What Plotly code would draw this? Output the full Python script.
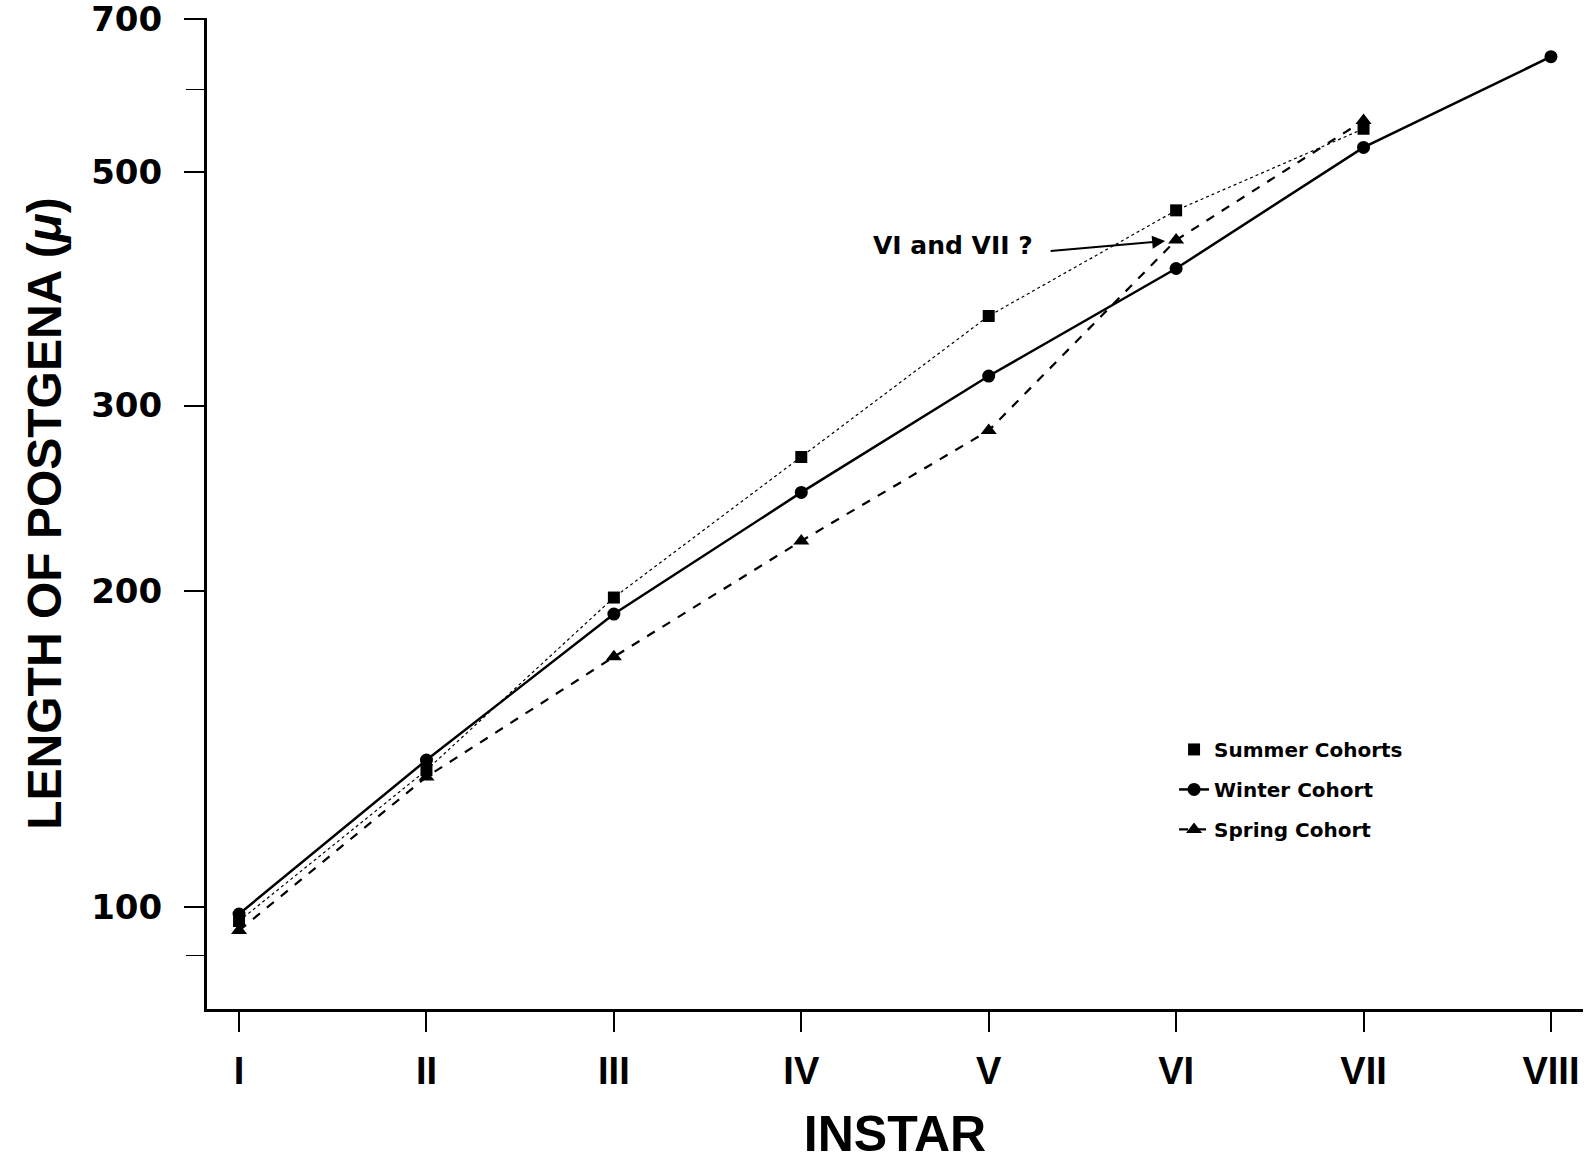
import math
import plotly.graph_objects as go

instars = [1, 2, 3, 4, 5, 6, 7, 8]
instar_labels = ["I", "II", "III", "IV", "V", "VI", "VII", "VIII"]

summer_x = [1, 2, 3, 4, 5, 6, 7]
summer_y = [97, 135, 197, 268, 365, 460, 550]

winter_x = [1, 2, 3, 4, 5, 6, 7, 8]
winter_y = [98.5, 138, 190, 248, 320, 405, 528, 644]

spring_x = [1, 2, 3, 4, 5, 6, 7]
spring_y = [95, 133, 173, 223, 284, 431, 560]

y_ticks = [100, 200, 300, 500, 700]
y_minor = [90, 600]

NARROW = "Liberation Sans Narrow, Arial Narrow, Liberation Sans, Arial, sans-serif"
WIDE = "DejaVu Sans, Verdana, sans-serif"

fig = go.Figure()

# Summer: dotted line (no legend), markers carry the legend entry
fig.add_trace(go.Scatter(
    x=summer_x, y=summer_y, mode="lines",
    line=dict(color="black", width=1.2, dash="dot"),
    showlegend=False, hoverinfo="skip"))
fig.add_trace(go.Scatter(
    x=summer_x, y=summer_y, mode="markers", name="Summer Cohorts",
    marker=dict(symbol="square", size=12, color="black"),
    legendgroup="a"))
fig.add_trace(go.Scatter(
    x=winter_x, y=winter_y, mode="lines+markers", name="Winter Cohort",
    line=dict(color="black", width=2.5),
    marker=dict(symbol="circle", size=13, color="black"),
    legendgroup="b"))
fig.add_trace(go.Scatter(
    x=spring_x, y=spring_y, mode="lines+markers", name="Spring Cohort",
    line=dict(color="black", width=2.2, dash="dash"),
    marker=dict(symbol="triangle-up", size=14, color="black"),
    legendgroup="c"))

fig.add_annotation(
    x=spring_x[5], y=math.log10(spring_y[5]), xref="x", yref="y",
    ax=-127, ay=11, axref="pixel", ayref="pixel",
    text="", showarrow=True, arrowhead=2, arrowsize=1.3, arrowwidth=2,
    arrowcolor="black", standoff=11)
fig.add_annotation(
    x=4.81, y=math.log10(426), xref="x", yref="y",
    text="VI and VII ?", showarrow=False,
    font=dict(family=WIDE, size=25, color="black", weight="bold"))

fig.update_layout(
    width=1590, height=1168,
    margin=dict(l=207, r=7, t=18, b=159),
    paper_bgcolor="white", plot_bgcolor="white",
    showlegend=True,
    legend=dict(
        x=0.7028, y=0.2816, xanchor="left", yanchor="top",
        font=dict(family=WIDE, size=20, color="black", weight="bold"),
        traceorder="grouped", tracegroupgap=11,
        bgcolor="rgba(0,0,0,0)"),
    xaxis=dict(
        range=[0.829, 8.171], tickmode="array", tickvals=instars, ticktext=instar_labels,
        ticks="outside", ticklen=20, tickwidth=1.5, tickcolor="black",
        showline=True, linewidth=3, linecolor="black", showgrid=False, zeroline=False,
        automargin=False, ticklabelstandoff=6, ticklabeloverflow="allow",
        tickfont=dict(family=NARROW, size=38, color="black", weight="bold"),
        title=dict(text="INSTAR", standoff=26,
                   font=dict(family=NARROW, size=50, color="black", weight="bold"))),
    yaxis=dict(
        type="log", range=[math.log10(80), math.log10(701)],
        tickmode="array", tickvals=y_ticks, ticktext=[str(v) for v in y_ticks],
        ticks="outside", ticklen=20, tickwidth=1.5, tickcolor="black",
        minor=dict(tickmode="array", tickvals=y_minor, ticks="outside", ticklen=18,
                   tickwidth=1.2, tickcolor="black", showgrid=False),
        showline=True, linewidth=3, linecolor="black", showgrid=False, zeroline=False,
        automargin=False, ticklabelstandoff=15, ticklabeloverflow="allow",
        tickfont=dict(family=WIDE, size=34, color="black", weight="bold"),
        title=dict(text="LENGTH OF POSTGENA (<i>μ</i>)", standoff=15,
                   font=dict(family=NARROW, size=48, color="black", weight="bold"))),
)

fig.write_html("out.html")
